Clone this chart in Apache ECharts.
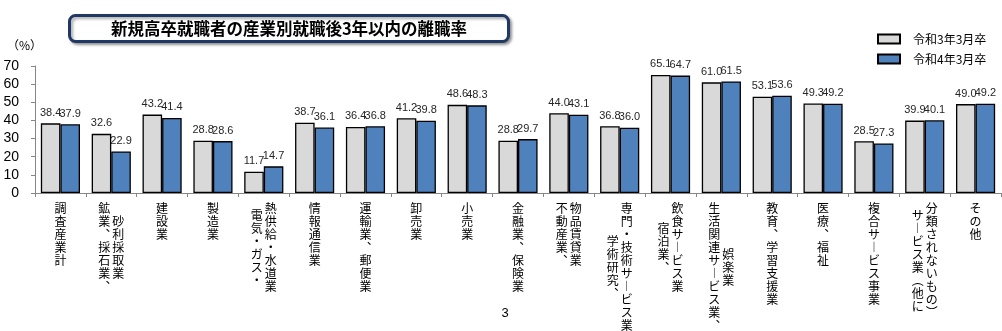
<!DOCTYPE html>
<html><head><meta charset="utf-8">
<script src="https://cdn.jsdelivr.net/npm/echarts@6/dist/echarts.min.js"></script>
<style>html,body{margin:0;padding:0;background:#fff}#c{width:1002px;height:331px}</style>
</head><body><div id="c"></div>
<script>
const categories = ['調査産業計','鉱業、採石業、砂利採取業','建設業','製造業','電気・ガス・熱供給・水道業','情報通信業','運輸業、郵便業','卸売業','小売業','金融業、保険業','不動産業、物品賃貸業','学術研究、専門・技術サービス業','宿泊業、飲食サービス業','生活関連サービス業、娯楽業','教育、学習支援業','医療、福祉','複合サービス事業','サービス業（他に分類されないもの）','その他'];
const labelColumns = [['調査産業計'],['鉱業、採石業、','砂利採取業'],['建設業'],['製造業'],['電気・ガス・','熱供給・水道業'],['情報通信業'],['運輸業、郵便業'],['卸売業'],['小売業'],['金融業、保険業'],['不動産業、','物品賃貸業'],['学術研究、','専門・技術サービス業'],['宿泊業、','飲食サービス業'],['生活関連サービス業、','娯楽業'],['教育、学習支援業'],['医療、福祉'],['複合サービス事業'],['サービス業（他に','分類されないもの）'],['その他']];
const seriesNames = ['令和3年3月卒','令和4年3月卒'];
const valuesR3 = [38.4,32.6,43.2,28.8,11.7,38.7,36.4,41.2,48.6,28.8,44.0,36.8,65.1,61.0,53.1,49.3,28.5,39.9,49.0];
const valuesR4 = [37.9,22.9,41.4,28.6,14.7,36.1,36.8,39.8,48.3,29.7,43.1,36.0,64.7,61.5,53.6,49.2,27.3,40.1,49.2];
const titleText = '新規高卒就職者の産業別就職後3年以内の離職率';

const JP = '"Noto Sans CJK JP", sans-serif';
const VERT = {'ー':'︱','、':'︑','（':'︵','）':'︶'};
function chars(s){ return Array.from(s).map(ch => VERT[ch] || ch); }
function buildLabel(idx, side){
  const cols = labelColumns[idx];
  if (cols.length === 1) {
    if (side === 1) return '';
    return chars(cols[0]).map(ch => '{c|' + ch + '}').join('\n');
  }
  const maxLen = Math.max(chars(cols[0]).length, chars(cols[1]).length);
  const cs = chars(cols[side]);
  const n = Math.round((maxLen - cs.length));
  const lines = [];
  if (n > 0) lines.push('{p' + n + '|\u3000}');
  cs.forEach(ch => lines.push(side === 0 ? '{c|' + ch + '}{c|\u3000}' : '{c|\u3000}{c|' + ch + '}'));
  return lines.join('\n');
}
const rich = { c: { fontSize: 12, lineHeight: 13, width: 14, align: 'center', fontFamily: JP, color: '#000' } };
for (let i = 1; i <= 16; i++) rich['p' + i] = { fontSize: 1, lineHeight: i * 6.5, width: 14 };

const chart = echarts.init(document.getElementById('c'), null, { renderer: 'canvas' });
const baseX = {
  type: 'category', data: categories, position: 'bottom', gridIndex: 0
};
chart.setOption({
  animation: false,
  backgroundColor: '#fff',
  grid: { left: 35, right: 1, top: 66, bottom: 138, outerBoundsMode: 'none', containLabel: false },
  legend: {
    data: seriesNames, orient: 'vertical', left: 872, top: 28,
    itemWidth: 22, itemHeight: 9, itemGap: 8, icon: 'rect',
    textStyle: { fontFamily: JP, fontSize: 12, color: '#000', padding: [0, 0, 0, 8] }
  },
  xAxis: [
    Object.assign({}, baseX, {
      axisLine: { show: true, lineStyle: { color: '#868686', width: 1 } },
      axisTick: { show: true, length: 4, interval: 0, lineStyle: { color: '#868686' } },
      axisLabel: { interval: 0, margin: 9, verticalAlign: 'top', formatter: (v, i) => buildLabel(i, 0), rich: rich }
    }),
    Object.assign({}, baseX, {
      axisLine: { show: false }, axisTick: { show: false },
      axisLabel: { interval: 0, margin: 9, verticalAlign: 'top', formatter: (v, i) => buildLabel(i, 1), rich: rich }
    })
  ],
  yAxis: {
    type: 'value', min: 0, max: 70, interval: 10,
    axisLine: { show: true, lineStyle: { color: '#868686' } },
    axisTick: { show: true, length: 4, lineStyle: { color: '#868686' } },
    splitLine: { show: false },
    axisLabel: { margin: 16, fontSize: 14, color: '#000', fontFamily: '"Liberation Sans", Arial, sans-serif' }
  },
  series: [
    { name: seriesNames[0], type: 'bar', data: valuesR3, xAxisIndex: 0, barGap: '0%', barCategoryGap: '23%',
      itemStyle: { color: '#d9d9d9', borderColor: '#000', borderWidth: 1.3 },
      label: { show: true, position: 'top', distance: 5, fontSize: 11, color: '#262626', fontFamily: '"Liberation Sans", Arial, sans-serif', formatter: p => p.value.toFixed(1) } },
    { name: seriesNames[1], type: 'bar', data: valuesR4, xAxisIndex: 0, barGap: '0%', barCategoryGap: '23%',
      itemStyle: { color: '#4f81bd', borderColor: '#000', borderWidth: 1.3 },
      label: { show: true, position: 'top', distance: 5, fontSize: 11, color: '#262626', fontFamily: '"Liberation Sans", Arial, sans-serif', formatter: p => p.value.toFixed(1) } }
  ],
  graphic: [
    { type: 'rect', shape: { x: 69.5, y: 15.5, width: 439, height: 26, r: 6 },
      style: { fill: '#fff', stroke: '#203864', lineWidth: 3, shadowBlur: 3, shadowOffsetX: 2, shadowOffsetY: 2, shadowColor: 'rgba(0,0,0,0.35)' }, z: 10 },
    { type: 'text', x: 289, y: 29, z: 11,
      style: { text: titleText, fontFamily: JP, fontSize: 16.5, fontWeight: 'bold', fill: '#000', align: 'center', verticalAlign: 'middle' } },
    { type: 'text', x: 7, y: 45, style: { text: '（%）', fontFamily: JP, fontSize: 12, fill: '#000', align: 'left', verticalAlign: 'middle' } },
    { type: 'text', x: 505, y: 313, style: { text: '3', fontFamily: '"Liberation Sans", Arial, sans-serif', fontSize: 13, fill: '#000', align: 'center', verticalAlign: 'middle' } }
  ]
});
</script></body></html>
